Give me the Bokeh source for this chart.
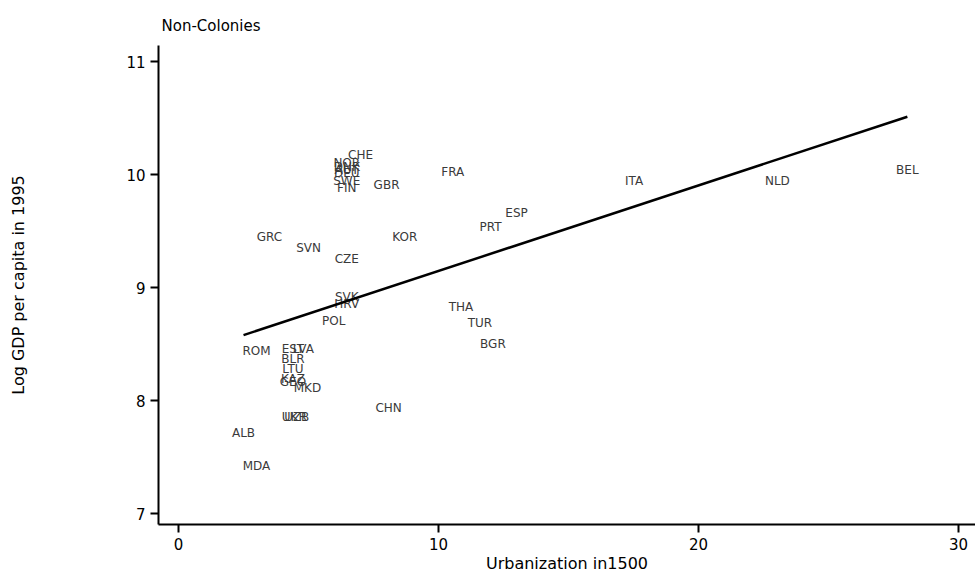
from bokeh.plotting import figure
from bokeh.models import ColumnDataSource, FixedTicker
from bokeh.core.properties import value
from bokeh.embed import file_html
from bokeh.resources import INLINE

# Country codes, urbanization in 1500 (%), log GDP per capita in 1995
countries = ["CHE", "NOR", "DNK", "AUT", "DEU", "SWE", "FIN", "GBR", "FRA", "ITA",
             "NLD", "BEL", "ESP", "PRT", "KOR", "GRC", "SVN", "CZE", "SVK", "HRV",
             "POL", "THA", "TUR", "BGR", "ROM", "EST", "LVA", "BLR", "LTU", "KAZ",
             "GEO", "MKD", "UKR", "UZB", "CHN", "ALB", "MDA"]
urbanization = [7.0, 6.47, 6.47, 6.47, 6.47, 6.47, 6.47, 8.0, 10.55, 17.52,
                23.03, 28.03, 13.0, 12.0, 8.7, 3.5, 5.0, 6.47, 6.47, 6.47,
                5.97, 10.86, 11.59, 12.09, 3.0, 4.4, 4.8, 4.4, 4.4, 4.4,
                4.4, 4.96, 4.45, 4.55, 8.08, 2.5, 3.0]
log_gdp = [10.17, 10.10, 10.07, 10.04, 10.01, 9.94, 9.88, 9.91, 10.02, 9.94,
           9.94, 10.04, 9.66, 9.54, 9.45, 9.45, 9.35, 9.25, 8.92, 8.85,
           8.70, 8.83, 8.69, 8.50, 8.44, 8.46, 8.46, 8.37, 8.28, 8.19,
           8.16, 8.11, 7.85, 7.85, 7.93, 7.71, 7.42]

# Fitted line
fit_intercept = 8.39
fit_slope = 0.0757

x_ticks = [0, 10, 20, 30]
y_ticks = [7, 8, 9, 10, 11]

FONT = "DejaVu Sans"

p = figure(width=975, height=578, output_backend="svg", toolbar_location=None,
           x_range=(-0.77, 30.65), y_range=(6.903, 11.142),
           min_border_left=158, min_border_right=0, min_border_top=45,
           min_border_bottom=54, title="Non-Colonies")

p.title.text_font = FONT
p.title.text_font_size = "15px"
p.title.text_font_style = "normal"
p.title.text_color = "black"
p.title.align = "left"
p.title.offset = 3
p.title.standoff = 22

p.grid.visible = False
p.outline_line_color = None
p.background_fill_color = "white"
p.border_fill_color = "white"

for ax in (p.xaxis[0], p.yaxis[0]):
    ax.axis_line_width = 2
    ax.axis_line_color = "black"
    ax.major_tick_line_width = 2
    ax.major_tick_line_color = "black"
    ax.major_tick_in = 0
    ax.major_tick_out = 8
    ax.minor_tick_line_color = None
    ax.major_label_text_font = FONT
    ax.major_label_text_font_size = "15px"
    ax.major_label_text_color = "black"
    ax.axis_label_text_font = FONT
    ax.axis_label_text_font_size = "16px"
    ax.axis_label_text_font_style = "normal"
    ax.axis_label_text_color = "black"

p.xaxis.ticker = FixedTicker(ticks=x_ticks)
p.yaxis.ticker = FixedTicker(ticks=y_ticks)
p.xaxis.axis_label = "Urbanization in1500"
p.yaxis.axis_label = "Log GDP per capita in 1995"
p.xaxis.major_label_standoff = 5
p.xaxis.axis_label_standoff = 1
p.yaxis.major_label_standoff = 5
p.yaxis.axis_label_standoff = 95
p.yaxis.major_label_orientation = "horizontal"

src = ColumnDataSource(dict(x=urbanization, y=log_gdp, lab=countries))
p.text(x="x", y="y", text="lab", source=src, text_align="center",
       text_baseline="middle", text_font=value(FONT), text_font_size="12px",
       text_color="#3a3a3a")

x0, x1 = min(urbanization), max(urbanization)
p.line([x0, x1], [fit_intercept + fit_slope * x0, fit_intercept + fit_slope * x1],
       line_color="black", line_width=2.5)

open("out.html", "w").write(file_html(p, INLINE))
